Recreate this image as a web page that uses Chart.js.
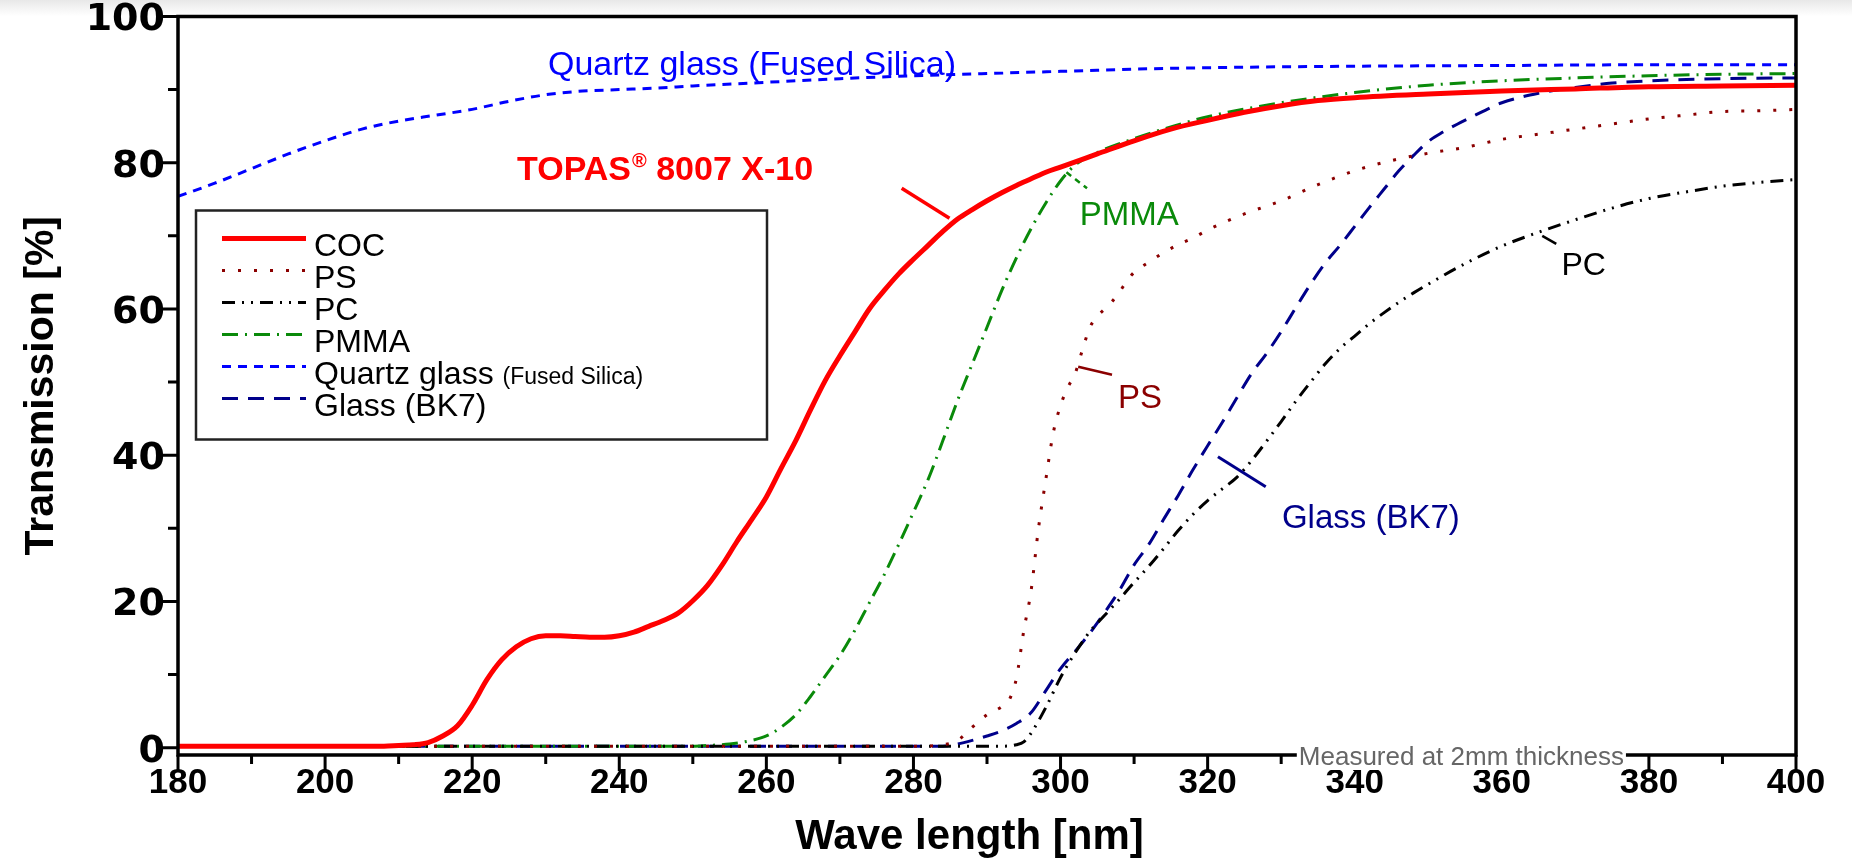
<!DOCTYPE html>
<html lang="en">
<head>
<meta charset="UTF-8">
<title>UV transmission of TOPAS 8007 X-10</title>
<script src="https://cdn.jsdelivr.net/npm/chart.js"></script>
<style>
  html, body { margin: 0; padding: 0; }
  body { background: #fff linear-gradient(#e8e8e8 0px, #ffffff 16px) no-repeat; }
  #wrap { width: 1852px; height: 865px; }
</style>
</head>
<body>
<div id="wrap"><canvas id="transChart" width="1852" height="865"></canvas></div>
<script>
// wavelength [nm] / transmission [%]
const cocNm = [180, 190, 200, 208,
  210, 212, 214, 216, 218, 220, 222, 224, 226, 228,
  230, 232, 234, 236, 238, 240, 242, 244, 246, 248,
  250, 252, 254, 256, 258, 260, 262, 264, 266, 268,
  270, 272, 274, 276, 278, 280, 282, 284, 286, 288,
  290, 292, 294, 296, 298, 300,
  305, 310, 315, 320, 325, 330, 335, 340,
  350, 360, 370, 380, 390, 400];
const cocT = [0.2, 0.2, 0.2, 0.2,
  0.3, 0.4, 0.7, 1.6, 3.0, 5.8, 9.3, 12.0, 13.8, 14.9,
  15.3, 15.3, 15.2, 15.1, 15.1, 15.3, 15.8, 16.6, 17.4, 18.4,
  20.1, 22.2, 25.0, 28.2, 31.2, 34.3, 38.2, 42.0, 46.2, 50.2,
  53.6, 56.8, 60.0, 62.5, 64.8, 66.8, 68.7, 70.6, 72.3, 73.6,
  74.8, 75.9, 76.9, 77.8, 78.7, 79.4,
  81.2, 83.0, 84.6, 85.8, 86.9, 87.8, 88.5, 88.9,
  89.4, 89.8, 90.1, 90.4, 90.5, 90.6];

const psNm = [180, 200, 220, 240, 260, 280,
  284, 286, 288, 290, 292,
  293, 294, 295, 296, 297, 298, 299, 300, 301, 302,
  303, 304, 305, 306, 307, 308, 309, 310,
  312, 314, 316, 318, 320,
  325, 330, 335, 340, 345, 350, 355, 360, 365, 370, 375, 380, 385, 390, 395, 400];
const psT = [0.2, 0.2, 0.2, 0.2, 0.2, 0.2,
  0.4, 1.0, 2.8, 4.5, 5.6,
  6.5, 9.5, 16.0, 21.5, 30.0, 36.7, 43.0, 46.8, 49.3, 51.2,
  54.5, 57.5, 59.0, 60.0, 61.0, 62.3, 63.8, 65.0,
  66.4, 67.7, 68.8, 69.7, 70.8,
  73.0, 74.8, 77.0, 78.9, 80.3, 81.3, 82.1, 83.2, 83.9, 84.6, 85.3, 86.0, 86.5, 87.0, 87.1, 87.3];

const pcNm = [180, 200, 220, 240, 260, 280, 292, 294, 295,
  296, 298, 300, 302, 304, 306, 308, 310, 312, 314,
  316, 318, 320, 322, 324, 326, 328, 330, 332, 334,
  336, 338, 340, 342, 344, 346, 348, 350,
  355, 360, 365, 370, 375, 380, 385, 390, 395, 400];
const pcT = [0.2, 0.2, 0.2, 0.2, 0.2, 0.2, 0.2, 0.4, 0.8,
  2.0, 5.5, 9.6, 13.0, 15.9, 18.1, 20.3, 22.6, 24.8, 27.2,
  29.7, 31.9, 33.8, 35.4, 37.0, 39.3, 41.9, 44.6, 47.4, 50.0,
  52.5, 54.6, 56.3, 58.0, 59.5, 60.9, 62.2, 63.4,
  66.2, 68.6, 70.5, 72.2, 73.8, 75.1, 76.0, 76.8, 77.3, 77.7];

const pmmaNm = [180, 200, 220, 240, 250, 252, 255, 258,
  260, 262, 264, 266, 268, 270, 272, 274, 276, 278,
  280, 282, 284, 286, 288, 290, 292, 294, 296, 298,
  300, 302, 305, 310, 315, 320,
  330, 340, 350, 360, 370, 380, 390, 400];
const pmmaT = [0.2, 0.2, 0.2, 0.2, 0.2, 0.3, 0.5, 1.0,
  1.6, 2.8, 4.5, 7.0, 9.8, 12.6, 16.0, 19.8, 23.6, 27.8,
  32.2, 36.7, 42.0, 47.5, 52.5, 57.5, 62.5, 67.0, 71.0, 74.5,
  77.5, 79.7, 81.4, 83.3, 84.9, 86.3,
  88.2, 89.6, 90.6, 91.2, 91.6, 91.9, 92.1, 92.2];

const quartzNm = [180, 185, 190, 195, 200, 205, 210, 215, 220, 225, 230, 235, 240, 245, 250,
  260, 270, 280, 290, 300, 310, 320, 340, 360, 380, 400];
const quartzT = [75.4, 77.2, 79.2, 81.2, 83.0, 84.6, 85.7, 86.5, 87.3, 88.4, 89.3, 89.8, 90.0, 90.2, 90.5,
  91.0, 91.5, 91.9, 92.2, 92.5, 92.8, 93.0, 93.2, 93.3, 93.4, 93.4];

const bk7Nm = [180, 200, 220, 240, 260, 280, 284,
  286, 288, 290, 292, 294, 296, 298, 300,
  302, 304, 306, 308, 310, 312, 314, 316, 318, 320,
  322, 324, 326, 328, 330, 332, 334, 336, 338, 340,
  342, 344, 346, 348, 350, 352, 354, 356, 358, 360,
  365, 370, 375, 380, 390, 400];
const bk7T = [0.2, 0.2, 0.2, 0.2, 0.2, 0.2, 0.2,
  0.5, 1.0, 1.6, 2.3, 3.3, 4.8, 7.8, 10.8,
  13.2, 15.7, 18.5, 21.5, 25.0, 27.8, 31.2, 34.5, 38.0, 41.3,
  44.5, 47.9, 51.2, 53.9, 56.9, 60.2, 63.4, 66.3, 68.7, 71.3,
  73.9, 76.4, 78.9, 81.0, 82.9, 84.2, 85.3, 86.3, 87.3, 88.2,
  89.5, 90.3, 90.9, 91.2, 91.5, 91.6];

const xTicks = [180, 200, 220, 240, 260, 280, 300, 320, 340, 360, 380, 400];
const xMinor = [190, 210, 230, 250, 270, 290, 310, 330, 350, 370, 390];
const yTicks = [0, 20, 40, 60, 80, 100];
const yMinor = [10, 30, 50, 70, 90];

const SANS = '"Liberation Sans", Arial, sans-serif';

function series(nm, t) {
  return nm.map((x, i) => ({ x: x, y: t[i] }));
}

// text labels placed on the plot in data units (nm, %)
const curveNotes = [
  { text: 'Quartz glass (Fused Silica)', x: 230.3, y: 92.0, color: '#0000ff', font: '34px ' + SANS },
  { text: 'PMMA', x: 302.6, y: 71.5, color: '#0a8a0a', font: '33px ' + SANS },
  { text: 'PS', x: 307.8, y: 46.5, color: '#8b0000', font: '33px ' + SANS },
  { text: 'Glass (BK7)', x: 330.1, y: 30.1, color: '#00008b', font: '33px ' + SANS },
  { text: 'PC', x: 368.1, y: 64.7, color: '#000000', font: '32px ' + SANS }
];
const pointers = [
  { from: [278.4, 76.5], to: [284.9, 72.4], color: '#ff0000', width: 3.5, dash: [] },
  { from: [300.8, 78.7], to: [303.6, 76.5], color: '#0a8a0a', width: 2.5, dash: [6, 5] },
  { from: [302.4, 52.1], to: [307.0, 51.0], color: '#8b0000', width: 2.5, dash: [] },
  { from: [321.4, 39.8], to: [327.9, 35.7], color: '#00008b', width: 3, dash: [] },
  { from: [365.5, 70.0], to: [367.4, 68.9], color: '#000000', width: 2.5, dash: [] }
];

const framePlugin = {
  id: 'frameAndNotes',
  afterDatasetsDraw(chart) {
    const ctx = chart.ctx;
    const a = chart.chartArea;
    const xs = chart.scales.x, ys = chart.scales.y;
    ctx.save();
    ctx.strokeStyle = '#000';
    ctx.lineWidth = 3.5;
    ctx.strokeRect(a.left, a.top, a.right - a.left, a.bottom - a.top);

    ctx.lineWidth = 3;
    ctx.beginPath();
    yTicks.forEach(v => { const p = ys.getPixelForValue(v); ctx.moveTo(a.left - 17, p); ctx.lineTo(a.left, p); });
    yMinor.forEach(v => { const p = ys.getPixelForValue(v); ctx.moveTo(a.left - 10, p); ctx.lineTo(a.left, p); });
    xTicks.forEach(v => { const p = xs.getPixelForValue(v); ctx.moveTo(p, a.bottom); ctx.lineTo(p, a.bottom + 16); });
    xMinor.forEach(v => { const p = xs.getPixelForValue(v); ctx.moveTo(p, a.bottom); ctx.lineTo(p, a.bottom + 9); });
    ctx.stroke();

    // measurement note sitting on the x axis
    ctx.font = '26px ' + SANS;
    const note = 'Measured at 2mm thickness';
    const nw = ctx.measureText(note).width;
    const nx = xs.getPixelForValue(354.5) - nw / 2;
    ctx.fillStyle = '#fff';
    ctx.fillRect(nx - 2, a.bottom - 9, nw + 4, 24);
    ctx.fillStyle = '#666';
    ctx.textBaseline = 'alphabetic';
    ctx.fillText(note, nx, a.bottom + 10);

    // pointer strokes
    pointers.forEach(p => {
      ctx.beginPath();
      ctx.setLineDash(p.dash);
      ctx.strokeStyle = p.color;
      ctx.lineWidth = p.width;
      ctx.moveTo(xs.getPixelForValue(p.from[0]), ys.getPixelForValue(p.from[1]));
      ctx.lineTo(xs.getPixelForValue(p.to[0]), ys.getPixelForValue(p.to[1]));
      ctx.stroke();
    });
    ctx.setLineDash([]);

    curveNotes.forEach(n => {
      ctx.font = n.font;
      ctx.fillStyle = n.color;
      ctx.fillText(n.text, xs.getPixelForValue(n.x), ys.getPixelForValue(n.y));
    });

    // TOPAS® 8007 X-10
    let tx = xs.getPixelForValue(226.1);
    const ty = ys.getPixelForValue(77.6);
    ctx.fillStyle = '#ff0000';
    ctx.font = 'bold 34px ' + SANS;
    ctx.fillText('TOPAS', tx, ty);
    tx += ctx.measureText('TOPAS').width + 1;
    ctx.font = 'bold 20px ' + SANS;
    ctx.fillText('\u00AE', tx, ty - 13);
    tx += ctx.measureText('\u00AE').width;
    ctx.font = 'bold 34px ' + SANS;
    ctx.fillText(' 8007 X-10', tx, ty);
    ctx.restore();
  }
};

const legendPlugin = {
  id: 'boxLegend',
  afterDatasetsDraw(chart) {
    const ctx = chart.ctx;
    const a = chart.chartArea;
    const bx = a.left + 18, by = a.top + 194, bw = 571, bh = 229;
    ctx.save();
    ctx.fillStyle = '#fff';
    ctx.fillRect(bx, by, bw, bh);
    ctx.strokeStyle = '#222';
    ctx.lineWidth = 2.5;
    ctx.strokeRect(bx, by, bw, bh);
    chart.data.datasets.forEach((ds, i) => {
      const base = by + 45 + i * 32;
      ctx.beginPath();
      ctx.setLineDash(ds.borderDash || []);
      ctx.strokeStyle = ds.borderColor;
      ctx.lineWidth = ds.borderWidth;
      ctx.moveTo(bx + 26, base - 17);
      ctx.lineTo(bx + 110, base - 17);
      ctx.stroke();
      ctx.setLineDash([]);
      ctx.fillStyle = '#000';
      ctx.font = '32px ' + SANS;
      ctx.textBaseline = 'alphabetic';
      ctx.fillText(ds.label, bx + 118, base);
      if (ds.note) {
        const w = ctx.measureText(ds.label + ' ').width;
        ctx.font = '23px ' + SANS;
        ctx.fillText(ds.note, bx + 118 + w, base);
      }
    });
    ctx.restore();
  }
};

const lineBase = { pointRadius: 0, fill: false, cubicInterpolationMode: 'monotone', borderCapStyle: 'butt' };

new Chart(document.getElementById('transChart'), {
  type: 'line',
  data: {
    datasets: [
      Object.assign({ label: 'COC', data: series(cocNm, cocT), borderColor: '#ff0000', borderWidth: 5, borderDash: [] }, lineBase),
      Object.assign({ label: 'PS', data: series(psNm, psT), borderColor: '#8b0000', borderWidth: 3, borderDash: [3, 13] }, lineBase),
      Object.assign({ label: 'PC', data: series(pcNm, pcT), borderColor: '#000000', borderWidth: 3, borderDash: [13, 7, 2, 7, 2, 7] }, lineBase),
      Object.assign({ label: 'PMMA', data: series(pmmaNm, pmmaT), borderColor: '#0a8a0a', borderWidth: 3, borderDash: [16, 7, 2, 7] }, lineBase),
      Object.assign({ label: 'Quartz glass', note: '(Fused Silica)', data: series(quartzNm, quartzT), borderColor: '#0000ff', borderWidth: 3, borderDash: [9, 7] }, lineBase),
      Object.assign({ label: 'Glass (BK7)', data: series(bk7Nm, bk7T), borderColor: '#00008b', borderWidth: 3, borderDash: [16, 10] }, lineBase)
    ]
  },
  options: {
    responsive: false,
    animation: false,
    devicePixelRatio: 1,
    layout: { padding: { top: 16.5, right: 56, left: 0, bottom: 0 } },
    plugins: {
      legend: { display: false },
      tooltip: { enabled: false }
    },
    scales: {
      x: {
        type: 'linear',
        min: 180,
        max: 400,
        afterBuildTicks: s => { s.ticks = xTicks.map(v => ({ value: v })); },
        afterFit: s => { s.height = 110; s.paddingLeft = 0; s.paddingRight = 0; },
        grid: { display: false, drawTicks: false },
        border: { display: false },
        ticks: {
          padding: 7,
          color: '#000',
          autoSkip: false,
          maxRotation: 0,
          font: { family: SANS, weight: 'bold', size: 35, lineHeight: 1.2 },
          callback: v => String(v)
        },
        title: {
          display: true,
          text: 'Wave length [nm]   ',
          color: '#000',
          font: { family: SANS, weight: 'bold', size: 42, lineHeight: 1.2 },
          padding: { top: 0, bottom: 2 }
        }
      },
      y: {
        type: 'linear',
        min: -1,
        max: 100,
        afterBuildTicks: s => { s.ticks = yTicks.map(v => ({ value: v })); },
        afterFit: s => { s.width = 178; s.paddingTop = 0; s.paddingBottom = 0; },
        grid: { display: false, drawTicks: false },
        border: { display: false },
        ticks: {
          padding: 13,
          labelOffset: 4,
          color: '#000',
          font: { family: '"DejaVu Sans", Verdana, sans-serif', weight: 'bold', size: 38, lineHeight: 1.2 },
          callback: v => String(v)
        },
        title: {
          display: true,
          text: 'Transmission [%]',
          color: '#000',
          font: { family: SANS, weight: 'bold', size: 41, lineHeight: 1.2 },
          padding: { top: 17, bottom: 0 }
        }
      }
    }
  },
  plugins: [framePlugin, legendPlugin]
});
</script>
</body>
</html>
